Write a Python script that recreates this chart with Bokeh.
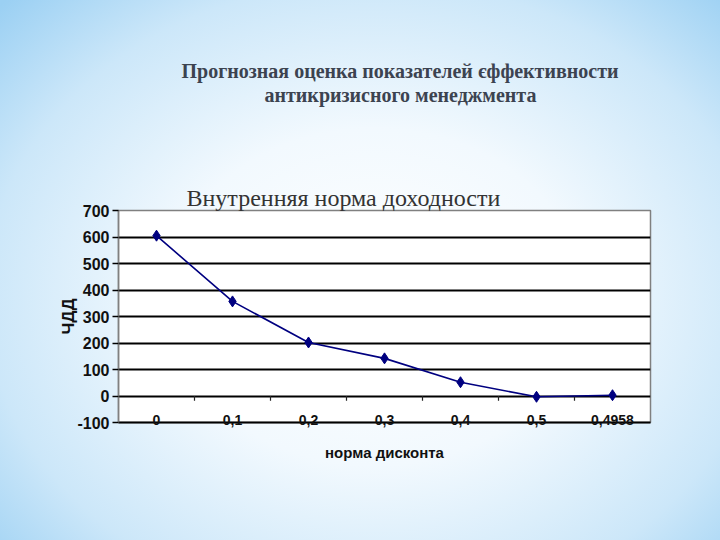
from bokeh.plotting import figure
from bokeh.models import Title, FixedTicker, Range1d
from bokeh.embed import file_html
from bokeh.resources import INLINE

# data
rates = ["0", "0,1", "0,2", "0,3", "0,4", "0,5", "0,4958"]
npv = [605, 357, 202, 142, 52, -3, 3]
y_ticks = [-100, 0, 100, 200, 300, 400, 500, 600, 700]

title_1 = "Прогнозная оценка показателей єффективности"
title_2 = "антикризисного менеджмента"
chart_title = "Внутренняя норма доходности"

xs = [i + 0.5 for i in range(len(rates))]
bounds = list(range(1, len(rates)))

p = figure(width=720, height=540, output_backend="svg", toolbar_location=None,
           x_range=Range1d(0, len(rates)), y_range=Range1d(-100, 700),
           min_border_left=118, min_border_right=70,
           min_border_top=210, min_border_bottom=118)

p.styles = {"background": "radial-gradient(ellipse 72% 78% at 52% 55%, #ffffff 0%, #f2f9fe 40%, #cce7f9 75%, #9bd0f3 100%)"}
p.border_fill_color = None
p.background_fill_color = "white"
p.outline_line_color = "#808080"
p.outline_line_width = 1.5

# category boundary ticks on the zero line
p.segment(x0=bounds, y0=[0] * len(bounds), x1=bounds, y1=[-18] * len(bounds),
          line_color="#222222", line_width=1.2)

p.line(xs, npv, line_color="#000080", line_width=1.6)
p.scatter(xs, npv, marker="diamond", size=11, fill_color="#000080", line_color="#000080")

# axes
p.xaxis.ticker = FixedTicker(ticks=xs)
p.xaxis.major_label_overrides = {x: r for x, r in zip(xs, rates)}
p.xaxis.major_tick_line_color = None
p.xaxis.axis_line_color = "black"
p.xaxis.axis_line_width = 2
p.xaxis.major_label_standoff = -14
p.xaxis.major_label_text_font = "Liberation Sans"
p.xaxis.major_label_text_font_style = "bold"
p.xaxis.major_label_text_font_size = "14px"
p.xaxis.major_label_text_color = "#111111"
p.xaxis.axis_label = "норма дисконта"
p.xaxis.axis_label_standoff = 16
p.xaxis.axis_label_text_font = "Liberation Sans"
p.xaxis.axis_label_text_font_style = "bold"
p.xaxis.axis_label_text_font_size = "15px"
p.xaxis.axis_label_text_color = "#111111"

p.yaxis.ticker = FixedTicker(ticks=y_ticks)
p.yaxis.major_label_overrides = {t: str(t) for t in y_ticks}
p.yaxis.axis_line_color = "#808080"
p.yaxis.axis_line_width = 1.5
p.yaxis.major_tick_out = 6
p.yaxis.major_tick_in = 0
p.yaxis.major_tick_line_color = "black"
p.yaxis.major_tick_line_width = 1.5
p.yaxis.minor_tick_line_color = None
p.yaxis.major_label_standoff = 3
p.yaxis.major_label_text_font = "Liberation Sans"
p.yaxis.major_label_text_font_style = "bold"
p.yaxis.major_label_text_font_size = "16px"
p.yaxis.major_label_text_color = "#111111"
p.yaxis.axis_label = "ЧДД"
p.yaxis.axis_label_standoff = -4
p.yaxis.axis_label_text_font = "Liberation Sans"
p.yaxis.axis_label_text_font_style = "bold"
p.yaxis.axis_label_text_font_size = "17px"
p.yaxis.axis_label_text_color = "#111111"

p.xgrid.grid_line_color = None
p.ygrid.ticker = FixedTicker(ticks=y_ticks)
p.ygrid.grid_line_color = "black"
p.ygrid.grid_line_width = 1.8

# titles stack upward from the frame
p.add_layout(Title(text=chart_title, align="left", offset=68, standoff=0,
                   text_font="Liberation Serif", text_font_style="normal",
                   text_font_size="24px", text_color="#333333"), "above")
p.add_layout(Title(text=" ", standoff=74, text_font_size="1px"), "above")
p.add_layout(Title(text=title_2, align="left", offset=146, standoff=0,
                   text_font="Liberation Serif", text_font_style="bold",
                   text_font_size="20px", text_color="#3c4350"), "above")
p.add_layout(Title(text=title_1, align="left", offset=63, standoff=0,
                   text_font="Liberation Serif", text_font_style="bold",
                   text_font_size="20px", text_color="#3c4350"), "above")

open("out.html", "w").write(file_html(p, INLINE))
